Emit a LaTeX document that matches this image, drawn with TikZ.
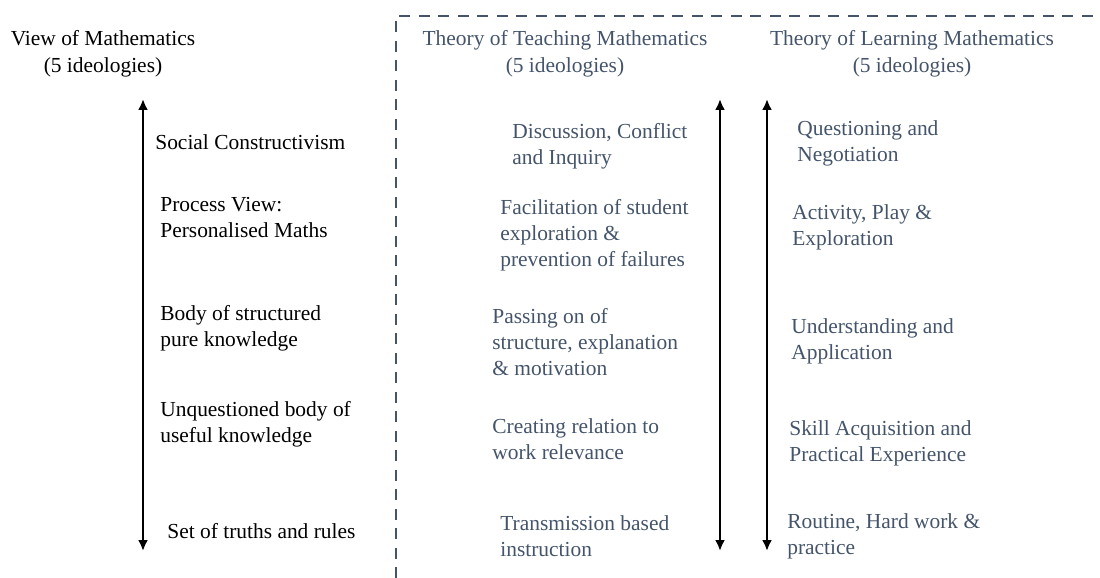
\documentclass[tikz,border=0pt]{standalone}
\usepackage{fontspec}
\setmainfont{Liberation Serif}
\usepackage{xcolor}
\definecolor{slate}{HTML}{44546A}
\usetikzlibrary{arrows.meta,positioning}

\begin{document}
\begin{tikzpicture}[x=0.02cm,y=-0.02cm,
    viewtext/.style={inner sep=0pt,align=left,anchor=west,font=\fontsize{12.2}{14.8}\selectfont},
    theorytext/.style={viewtext,text=slate},
    heading/.style={inner sep=0pt,align=center,font=\fontsize{12.2}{15.2}\selectfont},
    scalearrow/.style={{Latex[length=0.22cm,width=0.2cm]}-{Latex[length=0.22cm,width=0.2cm]},line width=1.7pt},
    boxline/.style={slate,line width=1.6pt,dash pattern=on 0.22cm off 0.17cm}
]
    \useasboundingbox (0,0) rectangle (1100,578);

    % Headings
    \node[heading] (viewhead) at (103,54) {View of Mathematics\\(5 ideologies)};
    \node[heading,text=slate] (teachhead) at (565,54) {Theory of Teaching Mathematics\\(5 ideologies)};
    \node[heading,text=slate] (learnhead) at (912,54) {Theory of Learning Mathematics\\(5 ideologies)};

    % Dashed frame round the two theories
    \coordinate (framebot) at (396,578);
    \coordinate (framecorner) at (396,16);
    \coordinate (frameright) at (1100,16);
    \draw[boxline] (framebot) -- (framecorner) -- (frameright);

    % Scale arrows
    \coordinate (viewtop) at (143,99);
    \coordinate (viewbot) at (143,551);
    \coordinate (teachtop) at (720,99);
    \coordinate (teachbot) at (720,551);
    \coordinate (learntop) at (767,99);
    \coordinate (learnbot) at (767,551);
    \draw[scalearrow] (viewtop) -- (viewbot);
    \draw[scalearrow] (teachtop) -- (teachbot);
    \draw[scalearrow] (learntop) -- (learnbot);

    % View of mathematics
    \node[viewtext] (view1) at (155,142) {Social Constructivism};
    \node[viewtext] (view2) at (160,218) {Process View:\\Personalised Maths};
    \node[viewtext] (view3) at (160,328) {Body of structured\\pure knowledge};
    \node[viewtext] (view4) at (160,424) {Unquestioned body of\\useful knowledge};
    \node[viewtext] (view5) at (167,531) {Set of truths and rules};

    % Theory of teaching
    \node[theorytext] (teach1) at (512,146) {Discussion, Conflict\\and Inquiry};
    \node[theorytext] (teach2) at (500,235) {Facilitation of student\\exploration \&\\prevention of failures};
    \node[theorytext] (teach3) at (492,342) {Passing on of\\structure, explanation\\\& motivation};
    \node[theorytext] (teach4) at (492,439) {Creating relation to\\work relevance};
    \node[theorytext] (teach5) at (500,536) {Transmission based\\instruction};

    % Theory of learning
    \node[theorytext] (learn1) at (797,143) {Questioning and\\Negotiation};
    \node[theorytext] (learn2) at (792,227) {Activity, Play \&\\Exploration};
    \node[theorytext] (learn3) at (791,341) {Understanding and\\Application};
    \node[theorytext] (learn4) at (789,443) {Skill Acquisition and\\Practical Experience};
    \node[theorytext] (learn5) at (787,536) {Routine, Hard work \&\\practice};
\end{tikzpicture}
\end{document}
